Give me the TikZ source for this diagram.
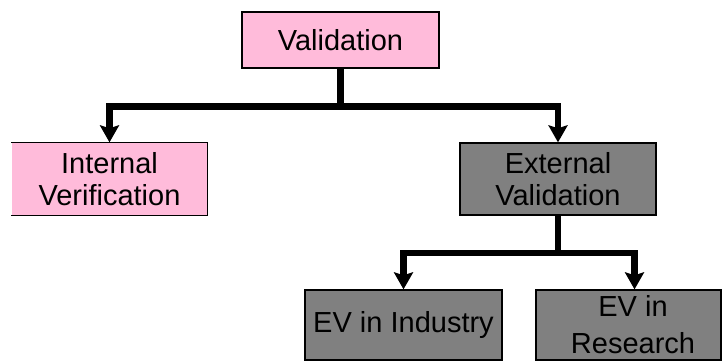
\documentclass[tikz,border=0pt]{standalone}
\usepackage{fontspec}
\setmainfont{Liberation Sans}
\usetikzlibrary{arrows.meta}
\definecolor{boxpink}{RGB}{255,187,218}
\definecolor{boxgray}{RGB}{128,128,128}
\tikzset{
  box/.style={rectangle, draw=black, line width=1.3bp, inner sep=0pt, align=center,
    font=\fontsize{29bp}{32bp}\selectfont, text=black},
  pinkbox/.style={box, fill=boxpink},
  graybox/.style={box, fill=boxgray},
  trunk/.style={line width=6.5bp},
  branch/.style={line width=6.5bp, -{Stealth[length=17bp,width=19bp,inset=3bp]}},
}
\begin{document}
\begin{tikzpicture}[x=1bp,y=-1bp]
\useasboundingbox (0,0) rectangle (723,361);

% boxes
\node[pinkbox, minimum width=197bp, minimum height=56bp] (val) at (340.5,40) {Validation};
\node[pinkbox, draw=none, minimum width=195bp, minimum height=72bp] (int) at (109.5,179) {Internal\\Verification};
\draw[line width=1.3bp] (int.north west) -- (int.north east) -- (int.south east) -- (int.south west);
\node[graybox, minimum width=196bp, minimum height=72bp] (ext) at (558,179) {External\\Validation};
\node[graybox, minimum width=197bp, minimum height=70bp] (ind) at (403.5,325) {EV in Industry};
\node[graybox, minimum width=185bp, minimum height=70bp] (res) at (628.5,325) {};
\node[align=center, inner sep=0pt, font=\fontsize{29bp}{37bp}\selectfont] (reslabel) at (633,325) {EV in\\Research};

% connectors
\draw[trunk] (val.south) -- ++(0,38) coordinate (j1);
\draw[branch] (j1) -| (int.north);
\draw[branch] (j1) -| (ext.north);
\draw[trunk] (ext.south) -- ++(0,37.5) coordinate (j2);
\draw[branch] (j2) -| (ind.north);
\draw[branch] (j2) -| ([xshift=6bp]res.north);
\end{tikzpicture}
\end{document}
